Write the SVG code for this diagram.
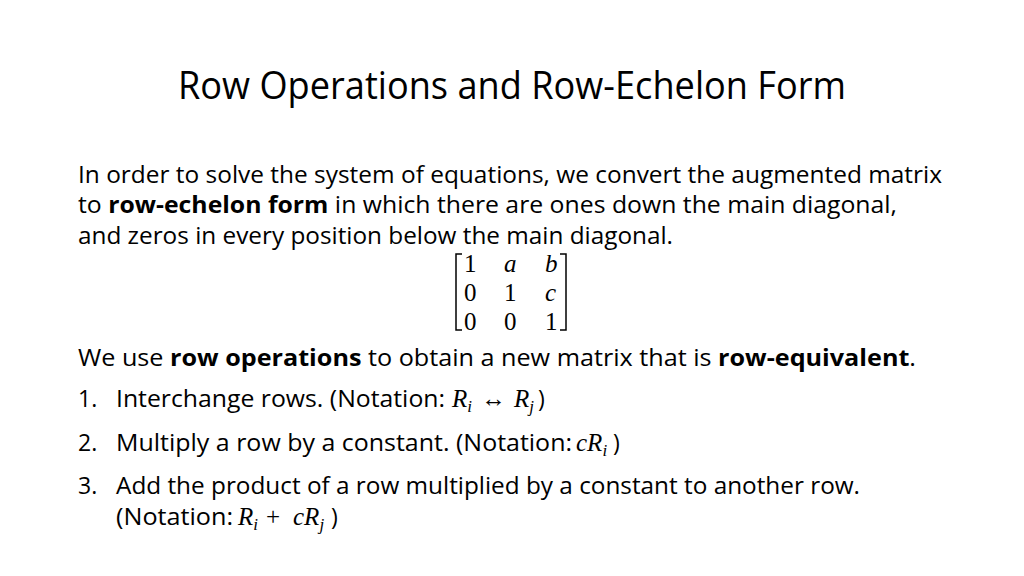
<svg xmlns="http://www.w3.org/2000/svg" width="1024" height="576" viewBox="0 0 1024 576">
<style>
.t{font-family:"Open Sans","Liberation Sans",sans-serif;fill:#000}
.b{font-size:23px}
.m{font-family:"Liberation Serif",serif;font-style:italic;font-size:25px}
.n{font-family:"Liberation Serif",serif;font-size:25px}
.k{font-weight:bold}
</style>
<rect width="1024" height="576" fill="#fff"/>
<text class="t" x="178" y="99" font-size="38" textLength="668" lengthAdjust="spacingAndGlyphs">Row Operations and Row-Echelon Form</text>
<text class="t b" x="78" y="183" textLength="864" lengthAdjust="spacingAndGlyphs">In order to solve the system of equations, we convert the augmented matrix</text>
<text class="t b" x="78" y="213" textLength="819" lengthAdjust="spacingAndGlyphs">to <tspan class="k">row-echelon form</tspan> in which there are ones down the main diagonal,</text>
<text class="t b" x="78" y="244" textLength="595" lengthAdjust="spacingAndGlyphs">and zeros in every position below the main diagonal.</text>
<g id="matrix" fill="none" stroke="#000" stroke-width="1.5">
<path d="M462 254 H456 V330 H462"/>
<path d="M560 254 H566 V330 H560"/>
</g>
<g>
<text class="n" x="464" y="272">1</text><text class="m" x="504" y="272">a</text><text class="m" x="545" y="272">b</text>
<text class="n" x="464" y="301">0</text><text class="n" x="504" y="301">1</text><text class="m" x="545" y="301">c</text>
<text class="n" x="464" y="330">0</text><text class="n" x="504" y="330">0</text><text class="n" x="545" y="330">1</text>
</g>
<text class="t b" x="78" y="366" textLength="838" lengthAdjust="spacingAndGlyphs">We use <tspan class="k">row operations</tspan> to obtain a new matrix that is <tspan class="k">row-equivalent</tspan>.</text>
<text class="t b" x="78" y="407">1.</text>
<text class="t b" x="116" y="407" textLength="329" lengthAdjust="spacingAndGlyphs">Interchange rows. (Notation: </text>
<text class="m" x="452" y="407">R<tspan font-size="17" dy="5">i</tspan></text>
<text class="n" x="481" y="407" font-size="22">↔</text>
<text class="m" x="514" y="407">R<tspan font-size="17" dy="5">j</tspan></text>
<text class="t b" x="538" y="407">)</text>
<text class="t b" x="78" y="451">2.</text>
<text class="t b" x="116" y="451" textLength="456" lengthAdjust="spacingAndGlyphs">Multiply a row by a constant. (Notation: </text>
<text class="m" x="576" y="451">cR<tspan font-size="17" dy="5">i</tspan></text>
<text class="t b" x="613" y="451">)</text>
<text class="t b" x="78" y="494">3.</text>
<text class="t b" x="116" y="494" textLength="744" lengthAdjust="spacingAndGlyphs">Add the product of a row multiplied by a constant to another row.</text>
<text class="t b" x="116" y="525" textLength="117" lengthAdjust="spacingAndGlyphs">(Notation: </text>
<text class="m" x="238" y="525">R<tspan font-size="17" dy="5">i</tspan></text>
<text class="n" x="266" y="525">+</text>
<text class="m" x="293" y="525">cR<tspan font-size="17" dy="5">j</tspan></text>
<text class="t b" x="331" y="525">)</text>
</svg>
